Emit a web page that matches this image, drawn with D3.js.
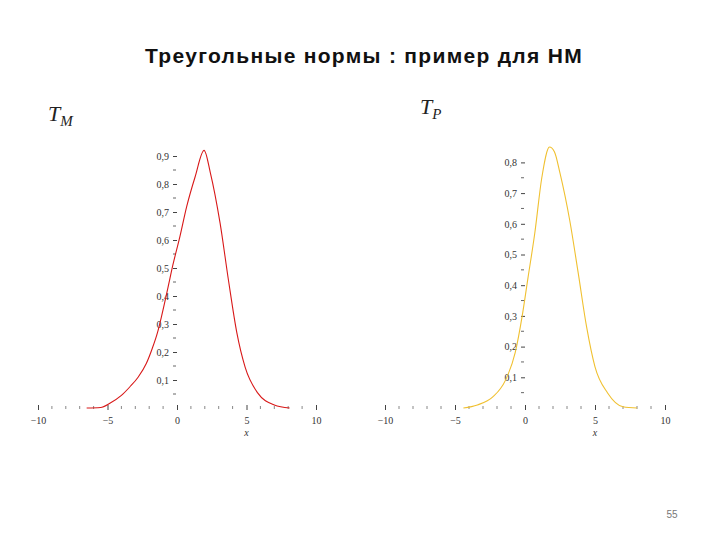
<!DOCTYPE html>
<html>
<head>
<meta charset="utf-8">
<script src="https://cdn.jsdelivr.net/npm/d3@7"></script>
<style>
  body { margin: 0; background: #fff; }
  svg { display: block; }
  .tick text { font-family: 'Liberation Serif', serif; font-size: 10px; fill: #333; }
</style>
</head>
<body>
<svg id="chart" width="720" height="540"></svg>
<script>
// T_M = min(muA, muB)
const xTM = [-6.5, -5.5, -4.8, -4.0, -3.4, -2.8, -2.2, -1.8, -1.4, -1.1, -0.65, -0.3, 0.2, 0.7, 1.3, 1.95, 2.4, 3.1, 3.7, 4.3, 4.9, 5.8, 7.0, 8.1]
const yTM = [0, 0.002, 0.018, 0.045, 0.075, 0.11, 0.16, 0.21, 0.27, 0.33, 0.43, 0.51, 0.61, 0.72, 0.825, 0.92, 0.84, 0.66, 0.457, 0.27, 0.146, 0.054, 0.011, 0]

// T_P = muA * muB
const xTP = [-4.4, -3.4, -2.3, -1.4, -0.7, -0.2, 0.2, 0.7, 1.2, 1.75, 2.1, 2.5, 3.2, 3.8, 4.4, 5.0, 5.9, 7.0, 8.0]
const yTP = [0, 0.01, 0.036, 0.09, 0.18, 0.3, 0.42, 0.57, 0.75, 0.85, 0.835, 0.765, 0.61, 0.44, 0.264, 0.134, 0.049, 0.004, 0]

const xMajor = [-10, -5, 0, 5, 10]
const yLabelsTM = [0.1, 0.2, 0.3, 0.4, 0.5, 0.6, 0.7, 0.8, 0.9]
const yLabelsTP = [0.1, 0.2, 0.3, 0.4, 0.5, 0.6, 0.7, 0.8]

const svg = d3.select('#chart')

svg.append('text')
  .attr('x', 364)
  .attr('y', 63)
  .attr('text-anchor', 'middle')
  .attr('font-family', 'Liberation Sans, Arial, sans-serif')
  .attr('font-weight', 'bold')
  .attr('font-size', 21)
  .attr('letter-spacing', 1.3)
  .attr('fill', '#111')
  .text('Треугольные нормы : пример для НМ')

svg.append('text')
  .attr('x', 672)
  .attr('y', 518)
  .attr('text-anchor', 'middle')
  .attr('font-family', 'Liberation Sans, Arial, sans-serif')
  .attr('font-size', 10)
  .attr('fill', '#777')
  .text('55')

const fmt = d => String(d).replace('.', ',').replace('-', '\u2212')

const drawPanel = ({ xs, ys, yLabels, xRange, yTop, color, name, nameX, nameY }) => {
  const g = svg.append('g')

  const x = d3.scaleLinear().domain([-10, 10]).range(xRange)
  const y = d3.scaleLinear().domain([0, 1]).range([408, yTop])

  // x axis: major ticks with labels, small marks at every integer
  const xAxis = g.append('g')
    .attr('transform', 'translate(0, 408)')
    .call(d3.axisBottom(x).tickValues(xMajor).tickSize(4).tickPadding(5).tickFormat(fmt))
  xAxis.select('.domain').remove()
  xAxis.selectAll('.tick line').attr('y1', -3).attr('y2', 2).attr('stroke', '#444')

  g.append('g')
    .selectAll('line')
    .data(d3.range(-10, 11).filter(d => d % 5 !== 0))
    .join('line')
    .attr('x1', d => x(d))
    .attr('x2', d => x(d))
    .attr('y1', 406)
    .attr('y2', 409)
    .attr('stroke', '#888')

  // y axis on x = 0
  const yAxis = g.append('g')
    .attr('transform', `translate(${x(0)}, 0)`)
    .call(d3.axisLeft(y).tickValues(yLabels).tickSize(4).tickPadding(4).tickFormat(fmt))
  yAxis.select('.domain').remove()
  yAxis.selectAll('.tick line').attr('stroke', '#444')

  g.append('g')
    .selectAll('line')
    .data(yLabels.map(d => d - 0.05))
    .join('line')
    .attr('x1', x(0) - 4)
    .attr('x2', x(0) - 1)
    .attr('y1', d => y(d))
    .attr('y2', d => y(d))
    .attr('stroke', '#666')

  g.append('text')
    .attr('x', x(5))
    .attr('y', 436)
    .attr('text-anchor', 'middle')
    .attr('font-family', 'Liberation Serif, serif')
    .attr('font-style', 'italic')
    .attr('font-size', 10)
    .attr('fill', '#333')
    .text('x')

  const line = d3.line()
    .x((d, i) => x(xs[i]))
    .y(d => y(d))
    .curve(d3.curveMonotoneX)

  g.append('path')
    .datum(ys)
    .attr('d', line)
    .attr('fill', 'none')
    .attr('stroke', color)
    .attr('stroke-width', 1.1)

  // panel name, e.g. T_M
  const t = g.append('text')
    .attr('x', nameX)
    .attr('y', nameY)
    .attr('font-family', 'Liberation Serif, serif')
    .attr('font-style', 'italic')
    .attr('font-size', 22)
    .attr('fill', '#222')
  t.append('tspan').text('T')
  t.append('tspan').attr('dy', 5).attr('font-size', 15).text(name)
}

drawPanel({
  xs: xTM, ys: yTM, yLabels: yLabelsTM,
  xRange: [38, 316], yTop: 128,
  color: '#d81818', name: 'M', nameX: 48, nameY: 121,
})

drawPanel({
  xs: xTP, ys: yTP, yLabels: yLabelsTP,
  xRange: [385, 665], yTop: 101,
  color: '#f0c030', name: 'P', nameX: 420, nameY: 114,
})
</script>
</body>
</html>
